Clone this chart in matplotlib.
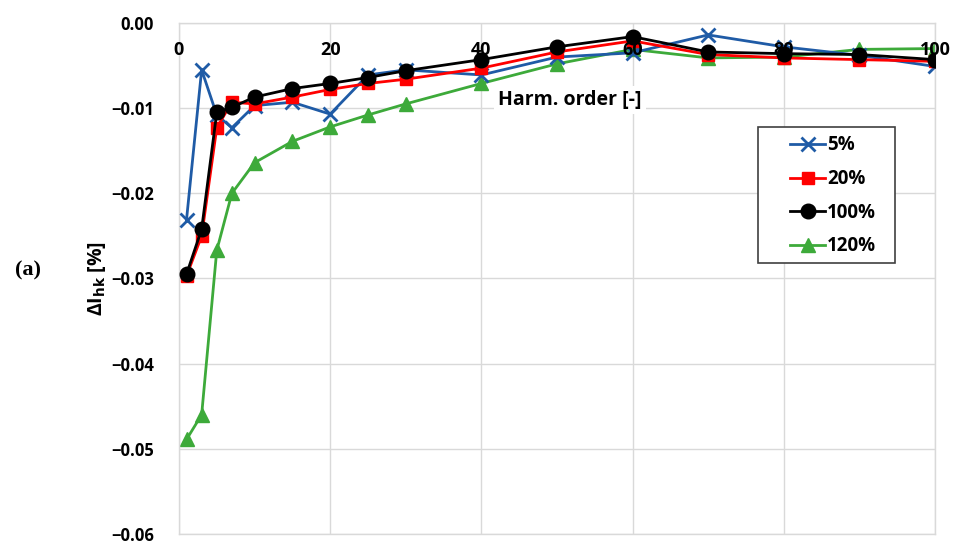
import matplotlib
matplotlib.use("Agg")
import matplotlib.pyplot as plt
from matplotlib.patches import Rectangle
from matplotlib.ticker import FuncFormatter, MultipleLocator

# Harmonic orders and relative current deviation per load level
orders = [1, 3, 5, 7, 10, 15, 20, 25, 30, 40, 50, 60, 70, 80, 90, 100]
load_5 = [-0.0231, -0.0055, -0.0108, -0.0123, -0.0097, -0.0093, -0.0107, -0.0061,
          -0.0055, -0.0061, -0.0040, -0.0035, -0.0014, -0.0028, -0.0038, -0.0051]
load_20 = [-0.0297, -0.0250, -0.0123, -0.0093, -0.0095, -0.0087, -0.0078, -0.0071,
           -0.0066, -0.0053, -0.0034, -0.0021, -0.0037, -0.0041, -0.0043, -0.0045]
load_100 = [-0.0295, -0.0242, -0.0105, -0.0099, -0.0087, -0.0077, -0.0071, -0.0064,
            -0.0056, -0.0043, -0.0028, -0.0016, -0.0034, -0.0036, -0.0037, -0.0043]
load_120 = [-0.0489, -0.0460, -0.0267, -0.0200, -0.0164, -0.0139, -0.0122, -0.0108,
            -0.0095, -0.0071, -0.0048, -0.0031, -0.0041, -0.0040, -0.0031, -0.0030]
labels = ["5%", "20%", "100%", "120%"]
x_ticks = [0, 20, 40, 60, 80, 100]

plt.rcParams['font.family'] = ['Open Sans', 'DejaVu Sans']
plt.rcParams['font.weight'] = 'bold'

fig = plt.figure(figsize=(9.56, 5.45), dpi=100)
ax = fig.add_axes([0.1872, 0.0202, 0.7908, 0.9376])

grid_c = '#d9d9d9'
ax.set_xlim(0, 100)
ax.set_ylim(-0.06, 0.0)
ax.set_xticks(x_ticks)
ax.yaxis.set_major_locator(MultipleLocator(0.01))
ax.grid(True, color=grid_c, linewidth=1.0, zorder=0)
ax.set_axisbelow(True)
for s in ax.spines.values():
    s.set_color(grid_c)
    s.set_linewidth(1.0)

ax.yaxis.set_major_formatter(FuncFormatter(
    lambda v, p: f"{v:.2f}".replace('-', '\u2212') if abs(v) > 1e-12 else "0.00"))
ax.tick_params(axis='both', length=0)
ax.tick_params(axis='x', labelbottom=False)
ax.tick_params(axis='y', pad=18, labelsize=12)
for lbl in ax.get_yticklabels():
    lbl.set_fontweight('bold')

# x tick labels sit just under the zero line, drawn above the curves
for t in x_ticks:
    ax.annotate(str(t), (t, 0.0), xytext=(0, -13), textcoords='offset points',
                ha='center', va='top', fontsize=13, fontweight='bold',
                annotation_clip=False, zorder=9)

ax.plot(orders, load_5, color='#1F5BA6', marker='x', markersize=10, markeredgewidth=2,
        linewidth=2, label=labels[0], zorder=3)
ax.plot(orders, load_20, color='#FF0000', marker='s', markersize=8.5,
        linewidth=2, label=labels[1], zorder=4)
ax.plot(orders, load_100, color='#000000', marker='o', markersize=10.5,
        linewidth=2, label=labels[2], zorder=5)
ax.plot(orders, load_120, color='#3DAA3A', marker='^', markersize=10,
        linewidth=2, label=labels[3], zorder=2)

ax.text(51.7, -0.0090, "Harm. order [-]", ha='center', va='center', fontsize=14,
        fontweight='bold', bbox=dict(facecolor='white', edgecolor='none', pad=3), zorder=6)

ax.set_ylabel("\u0394I$_{\\mathbf{hk}}$ [%]", fontsize=14, fontweight='bold', labelpad=2)

# legend frame drawn separately so its padding can differ horizontally and vertically
ax.add_patch(Rectangle((0.766, 0.530), 0.181, 0.2665, transform=ax.transAxes,
                       facecolor='white', edgecolor='#404040', linewidth=1.2, zorder=7))
leg = ax.legend(loc='upper left', bbox_to_anchor=(0.808, 0.780), frameon=False,
                handlelength=1.9, handletextpad=0.1, labelspacing=0.73,
                borderpad=0, borderaxespad=0, prop={'weight': 'bold', 'size': 13.5})
leg.set_zorder(8)

fig.text(0.029, 0.503, "(a)", family=['Liberation Serif', 'DejaVu Serif'], fontsize=16,
         fontweight='bold', ha='center', va='center')

fig.savefig("out.png", dpi=100)
